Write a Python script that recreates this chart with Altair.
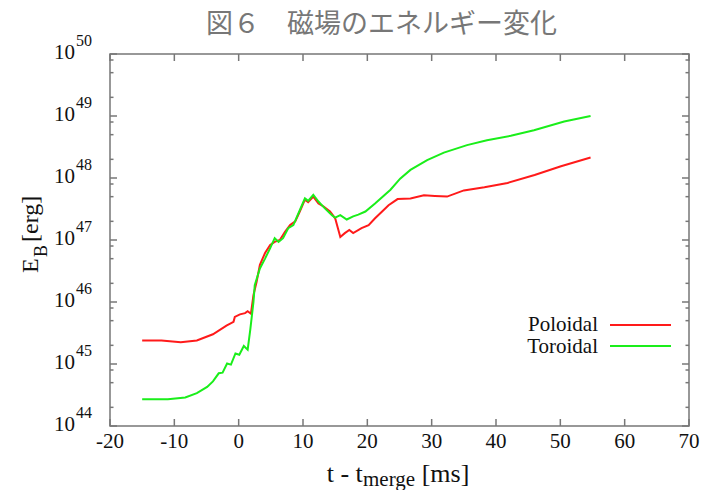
import altair as alt
import pandas as pd

# ---- data ----
t_poloidal = [-15, -12, -9, -6.5, -4, -1.9, -0.8, -0.6, 0.2, 1.0, 1.4, 1.9, 2.3, 2.8, 3.3,
              4.1, 4.9, 5.6, 6.4, 7.2, 8.0, 8.8, 9.5, 10.3, 10.8, 11.6, 12.4, 13.2, 14.2,
              15.0, 15.8, 16.5, 17.2, 17.8, 19.1, 20.2, 21.2, 22.3, 23.3, 24.7, 26.7,
              28.8, 30.5, 32.4, 35.0, 38.2, 41.8, 46.0, 50.1, 54.7]
e_poloidal = [2.40e45, 2.40e45, 2.24e45, 2.40e45, 3.02e45, 4.17e45, 4.79e45, 5.75e45,
              6.31e45, 6.61e45, 7.08e45, 6.46e45, 1.29e46, 2.14e46, 3.98e46, 6.17e46,
              8.32e46, 9.33e46, 1.00e47, 1.35e47, 1.74e47, 2.00e47, 2.88e47, 4.47e47,
              4.07e47, 5.01e47, 3.89e47, 3.47e47, 2.88e47, 2.24e47, 1.12e47, 1.29e47,
              1.45e47, 1.29e47, 1.55e47, 1.74e47, 2.24e47, 2.88e47, 3.63e47, 4.57e47,
              4.68e47, 5.25e47, 5.13e47, 5.01e47, 6.31e47, 7.08e47, 8.32e47, 1.12e48,
              1.55e48, 2.14e48]

t_toroidal = [-15, -11, -8.3, -6.5, -4.9, -4.0, -3.1, -2.5, -1.8, -1.2, -0.5, 0.1, 0.8,
              1.4, 1.8, 2.3, 2.5, 3.3, 4.1, 4.9, 5.6, 6.2, 6.9, 7.7, 8.5, 9.5, 10.3, 10.8,
              11.6, 12.4, 13.4, 14.5, 15.0, 15.8, 16.8, 17.8, 18.6, 19.7, 21.2, 23.6,
              25.1, 26.7, 29.3, 31.9, 35.5, 38.6, 42.3, 45.9, 50.6, 54.7]
e_toroidal = [2.69e44, 2.69e44, 2.88e44, 3.39e44, 4.27e44, 5.25e44, 7.08e44, 7.24e44,
              1.02e45, 9.77e44, 1.48e45, 1.41e45, 1.95e45, 1.70e45, 3.55e45, 1.00e46,
              1.86e46, 3.47e46, 5.01e46, 7.41e46, 1.07e47, 9.33e46, 1.07e47, 1.55e47,
              1.74e47, 3.02e47, 4.68e47, 4.27e47, 5.37e47, 4.17e47, 3.24e47, 2.51e47,
              2.29e47, 2.51e47, 2.14e47, 2.40e47, 2.57e47, 2.88e47, 3.89e47, 6.46e47,
              9.77e47, 1.35e48, 1.95e48, 2.57e48, 3.39e48, 4.07e48, 4.79e48, 5.89e48,
              8.13e48, 1.00e49]

x_ticks = [-20, -10, 0, 10, 20, 30, 40, 50, 60, 70]
x_tick_labels = ["-20", "-10", "0", "10", "20", "30", "40", "50", "60", "70"]
y_exponents = ["44", "45", "46", "47", "48", "49", "50"]
y_major = [1e44, 1e45, 1e46, 1e47, 1e48, 1e49, 1e50]
y_minor_mult = [2, 5, 8]

title_text = "図６　磁場のエネルギー変化"
series_names = ["Poloidal", "Toroidal"]
series_colors = ["#ff1a1a", "#1aee1a"]

# ---- layout ----
W, H = 579, 372
SERIF = "Liberation Serif"
FRAME = "#777777"
MAJ, MIN = 7, 3.5

xs = alt.Scale(domain=[-20, 70], nice=False, zero=False)
ys = alt.Scale(type="log", domain=[1e44, 1e50], nice=False)

pol = pd.DataFrame({"t": t_poloidal, "E": e_poloidal})
tor = pd.DataFrame({"t": t_toroidal, "E": e_toroidal})
y_minor = [m * v for v in y_major[:-1] for m in y_minor_mult]
ymaj = pd.DataFrame({"v": y_major, "base": ["10"] * len(y_major), "exp": y_exponents})
ymin = pd.DataFrame({"v": y_minor})
xdf = pd.DataFrame({"t": x_ticks, "lab": x_tick_labels})
one = pd.DataFrame({"a": [0]})

X = lambda f: alt.X(f, type="quantitative", scale=xs, axis=None)
Y = lambda f: alt.Y(f, type="quantitative", scale=ys, axis=None)

line_p = alt.Chart(pol).mark_line(color=series_colors[0], strokeWidth=2).encode(x=X("t"), y=Y("E"))
line_t = alt.Chart(tor).mark_line(color=series_colors[1], strokeWidth=2).encode(x=X("t"), y=Y("E"))

def yrule(df, x0, x1):
    return alt.Chart(df).mark_rule(color=FRAME, strokeWidth=1.5).encode(
        y=Y("v"), x=alt.value(x0), x2=alt.value(x1))

def xrule(y0, y1):
    return alt.Chart(xdf).mark_rule(color=FRAME, strokeWidth=1.5).encode(
        x=X("t"), y=alt.value(y0), y2=alt.value(y1))

ticks = [
    yrule(ymaj, 0, MAJ), yrule(ymin, 0, MIN),
    yrule(ymaj, W - MAJ, W), yrule(ymin, W - MIN, W),
    xrule(H - MAJ, H), xrule(0, MAJ),
]

ylab10 = alt.Chart(ymaj).mark_text(font=SERIF, fontSize=21, align="right",
                                   baseline="alphabetic", dy=5, color="#111").encode(
    y=Y("v"), x=alt.value(-35), text="base:N")
ylabexp = alt.Chart(ymaj).mark_text(font=SERIF, fontSize=16, align="left",
                                    baseline="alphabetic", dy=-8, color="#111").encode(
    y=Y("v"), x=alt.value(-34), text="exp:N")
xlab = alt.Chart(xdf).mark_text(font=SERIF, fontSize=21, align="center",
                                baseline="alphabetic", color="#111").encode(
    x=X("t"), y=alt.value(394), text="lab:N")

def txt(s, x, y, size, align="left", angle=0, color="#111", font=SERIF, baseline="alphabetic"):
    kw = dict(font=font, fontSize=size, align=align, baseline=baseline, color=color)
    if angle:
        kw["angle"] = angle
    return alt.Chart(one).mark_text(**kw).encode(
        x=alt.value(x), y=alt.value(y), text=alt.value(s))

texts = [
    txt(title_text, 271.5, -29, 27, align="center", color="#777777",
        font="Noto Sans CJK JP", baseline="middle"),
    # y title E_B [erg]
    txt("E", -72, 219, 24, angle=270),
    txt("B", -63, 203, 18, angle=270),
    txt("[erg]", -72, 188, 24, angle=270),
    # x title t - t_merge [ms]
    txt("t - t", 216.7, 428, 26),
    txt("merge", 253, 432, 21),
    txt("[ms]", 311.7, 428, 26),
    # legend
    txt(series_names[0], 488, 277, 21, align="right"),
    txt(series_names[1], 488, 299, 21, align="right"),
]

legend_lines = [
    alt.Chart(one).mark_rule(color=series_colors[0], strokeWidth=2).encode(
        x=alt.value(500), x2=alt.value(561), y=alt.value(271)),
    alt.Chart(one).mark_rule(color=series_colors[1], strokeWidth=2).encode(
        x=alt.value(500), x2=alt.value(561), y=alt.value(292)),
]

chart = alt.layer(
    *ticks, line_p, line_t, ylab10, ylabexp, xlab, *texts, *legend_lines
).properties(
    width=W, height=H,
    autosize=alt.AutoSizeParams(type="none"),
    padding={"left": 110, "top": 54, "right": 17, "bottom": 64},
    background="white",
).configure_view(stroke=FRAME, strokeWidth=1.5)

chart.save("out.html", embed_options={"renderer": "svg", "actions": False})
